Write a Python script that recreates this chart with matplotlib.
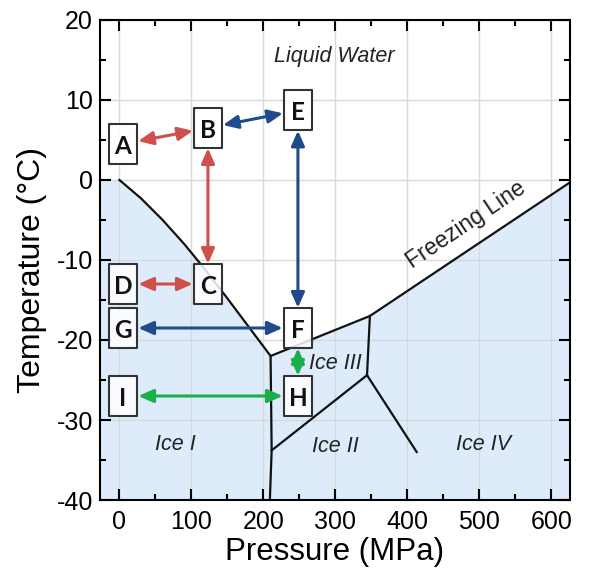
import matplotlib.pyplot as plt
from matplotlib.path import Path
from matplotlib.ticker import MultipleLocator

plt.rcParams['font.family'] = ['Liberation Sans', 'DejaVu Sans']
plt.rcParams['axes.unicode_minus'] = False

# axis ranges
p_range = (-27, 626)
t_range = (-40, 20)

# freezing line (MPa, degC)
melt_p = [0, 30, 60, 90, 120, 150, 180, 210, 348, 626]
melt_t = [0, -2.3, -5.0, -8.0, -11.3, -14.8, -18.4, -22.0, -17.0, -0.3]

# solid-solid boundaries
ice1_p = [210, 211.5, 209]
ice1_t = [-22.0, -33.8, -40]
ice2_3_p = [211.5, 344]
ice2_3_t = [-33.8, -24.4]
ice3_5_p = [348, 344]
ice3_5_t = [-17.0, -24.4]
ice2_5_p = [344, 413]
ice2_5_t = [-24.4, -34.0]

# phase labels
phase_names = ['Liquid Water', 'Ice I', 'Ice II', 'Ice III', 'Ice IV']
phase_p = [298, 78, 300, 300, 506]
phase_t = [15.4, -33.1, -33.3, -22.9, -33.1]

# lettered states
state_names = ['A', 'B', 'C', 'D', 'E', 'F', 'G', 'H', 'I']
state_p = [5, 123, 123, 5, 248, 248, 5, 248, 5]
state_t = [4.5, 6.5, -13, -13, 8.7, -18.5, -18.5, -27, -27]

# transitions (from, to, colour)
red, blue, green = '#cf4f4a', '#1f4b8a', '#1aae4c'
moves = [('A', 'B', red), ('B', 'C', red), ('D', 'C', red),
         ('B', 'E', blue), ('E', 'F', blue), ('G', 'F', blue),
         ('F', 'H', green), ('I', 'H', green)]


def execute():
    fig = plt.figure(figsize=(5.89, 5.74), dpi=100)
    ax = fig.add_axes([0.1698, 0.1289, 0.7979, 0.8363])

    # solid region under the freezing line
    ax.fill_between([p_range[0]] + melt_p, [0] + melt_t, t_range[0],
                    color='#ddebfb', lw=0, zorder=1)

    line_kw = dict(color='#111111', lw=1.6, zorder=2)
    ax.plot(melt_p, melt_t, **line_kw)
    ax.plot(ice1_p, ice1_t, **line_kw)
    ax.plot(ice2_3_p, ice2_3_t, **line_kw)
    ax.plot(ice3_5_p, ice3_5_t, **line_kw)
    ax.plot(ice2_5_p, ice2_5_t, **line_kw)

    for name, p, t in zip(phase_names, phase_p, phase_t):
        ax.text(p, t, name, ha='center', va='center', fontsize=15.5,
                style='italic', color='#222222', zorder=3)
    ax.text(482, -5.6, 'Freezing Line', ha='center', va='center',
            fontsize=16.5, rotation=34, color='#222222', zorder=3)

    pos = {n: (p, t) for n, p, t in zip(state_names, state_p, state_t)}
    for a, b, c in moves:
        vertical = pos[a][0] == pos[b][0]
        shrink = 14.6 if vertical else 11.0
        ax.annotate('', xy=pos[b], xytext=pos[a],
                    arrowprops=dict(arrowstyle='<|-|>,head_length=0.9,head_width=0.4',
                                    mutation_scale=10, color=c, lw=2.2,
                                    shrinkA=shrink, shrinkB=shrink),
                    zorder=3)

    box = Path([(-0.36, -0.5), (0.36, -0.5), (0.36, 0.5), (-0.36, 0.5),
                (-0.36, -0.5)], closed=True)
    ax.plot(state_p, state_t, ls='none', marker=box, ms=28.5,
            mfc=(1, 1, 1, 0.85), mec='#333333', mew=1.5, zorder=4)
    for name, p, t in zip(state_names, state_p, state_t):
        ax.text(p, t - 0.3, name, ha='center', va='center', fontsize=17.5,
                fontweight='bold', family='Lato', color='#111111', zorder=5)

    ax.set_xlim(*p_range)
    ax.set_ylim(*t_range)
    ax.xaxis.set_major_locator(MultipleLocator(100))
    ax.xaxis.set_minor_locator(MultipleLocator(50))
    ax.yaxis.set_major_locator(MultipleLocator(10))
    ax.yaxis.set_minor_locator(MultipleLocator(5))
    ax.grid(True, which='major', color='#d8d8d8', lw=1)

    ax.tick_params(which='both', direction='in', top=True, right=True,
                   width=1.5, labelsize=18)
    ax.tick_params(which='major', length=8)
    ax.tick_params(which='minor', length=4)
    ax.tick_params(axis='x', pad=7)
    ax.tick_params(axis='y', pad=5)
    for s in ax.spines.values():
        s.set_linewidth(1.5)

    ax.set_xlabel('Pressure (MPa)', fontsize=22.5, labelpad=2)
    ax.set_ylabel('Temperature (°C)', fontsize=23, labelpad=7)
    ax.yaxis.label.set_y(0.48)

    fig.savefig('out.png', dpi=100)


if __name__ == '__main__':
    execute()
